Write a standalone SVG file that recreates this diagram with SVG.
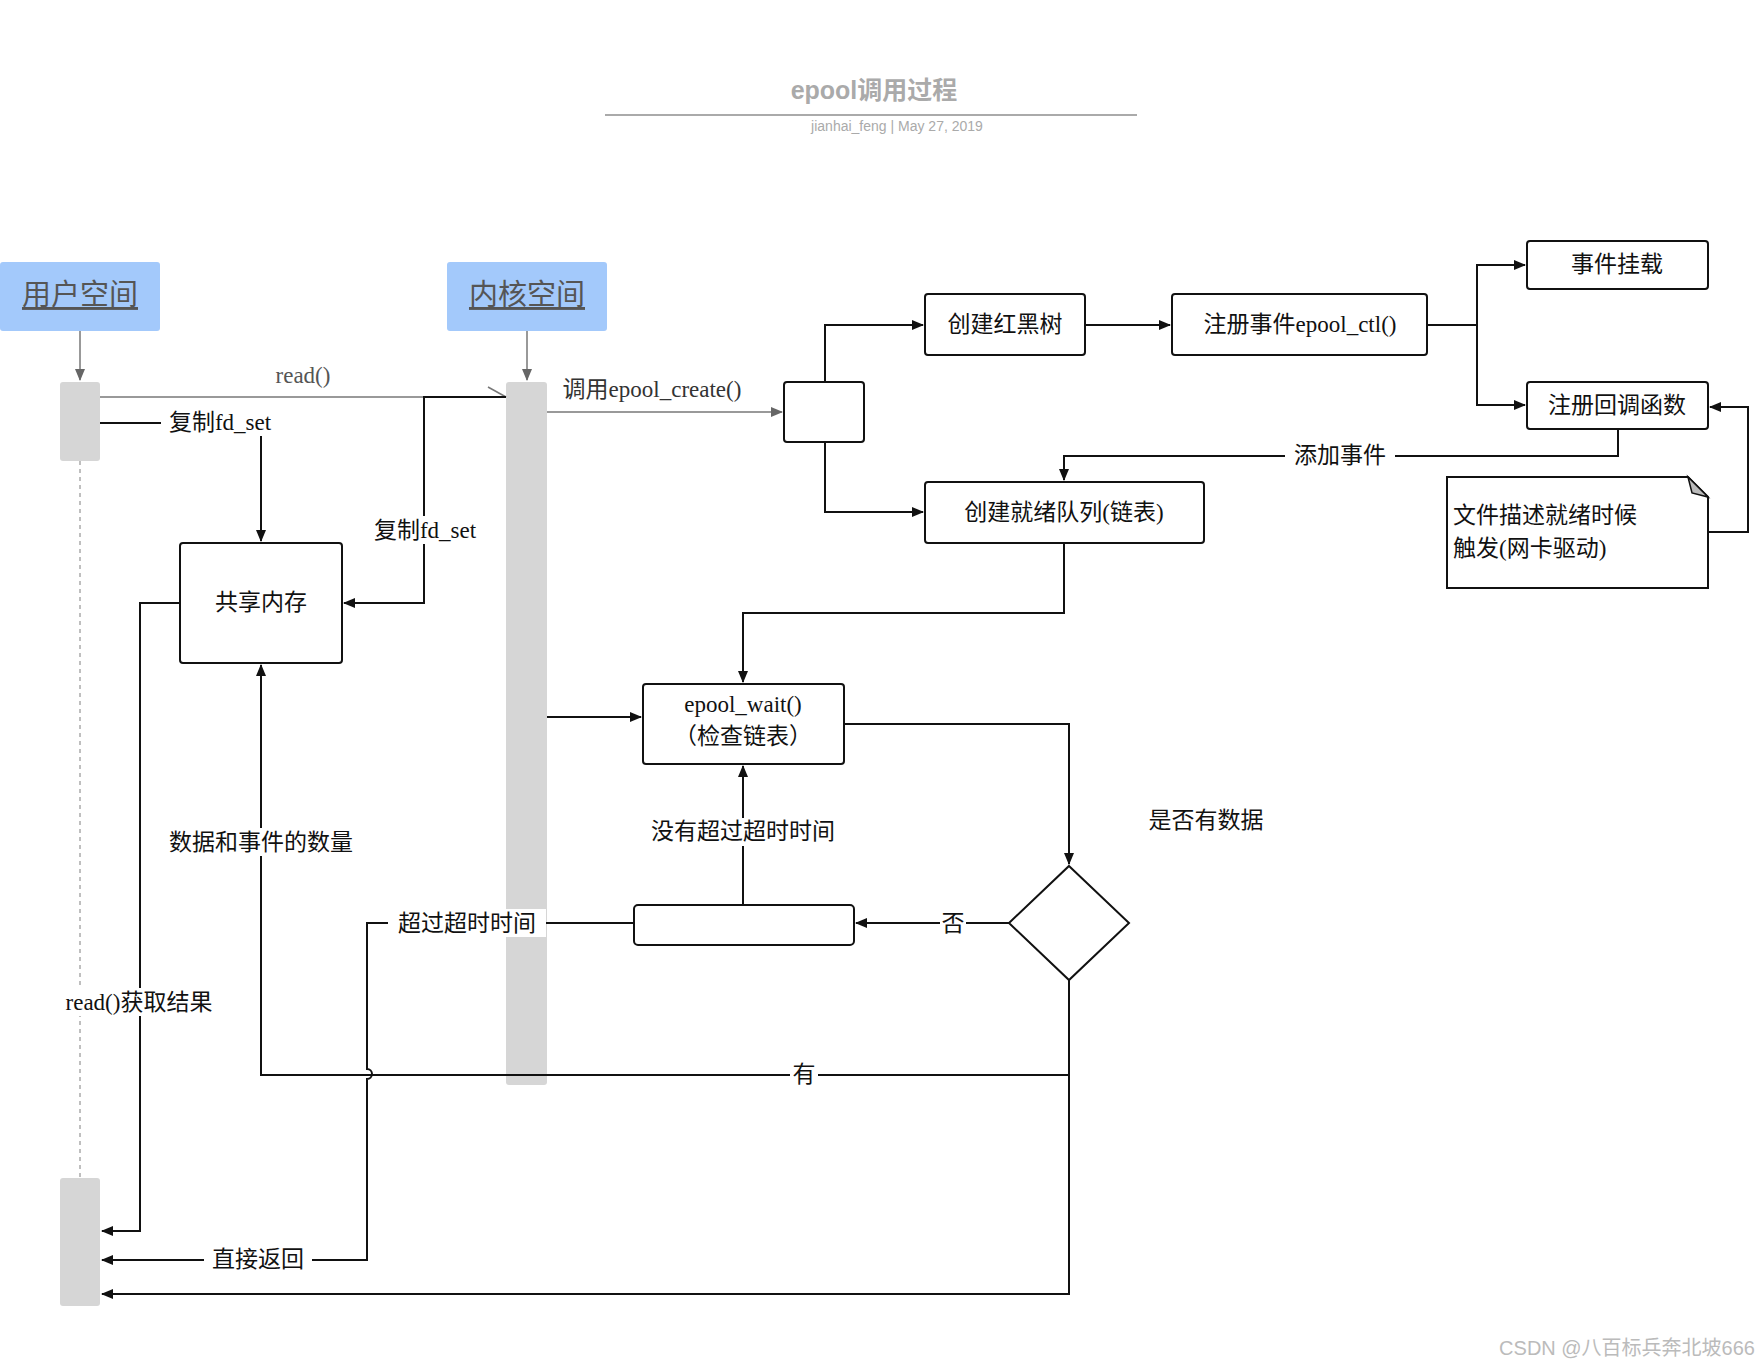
<svg xmlns="http://www.w3.org/2000/svg" width="1760" height="1360" viewBox="0 0 1760 1360">
<style>
text{font-family:"Liberation Serif","Noto Sans CJK SC",serif;font-size:23px;fill:#111}
.c{text-anchor:middle}
.box{fill:#fff;stroke:#111;stroke-width:2}
.ln{fill:none;stroke:#111;stroke-width:2}
.gl{fill:none;stroke:#777;stroke-width:1.5}
.bar{fill:#d6d6d6}
.hd{fill:#a3c9fb}
.lb{fill:#fff}
</style>
<defs>
<marker id="a" markerWidth="12" markerHeight="10" refX="11" refY="5" orient="auto" markerUnits="userSpaceOnUse"><path d="M0,0L12,5L0,10z" fill="#111"/></marker>
<marker id="g" markerWidth="12" markerHeight="10" refX="11" refY="5" orient="auto" markerUnits="userSpaceOnUse"><path d="M0,0L12,5L0,10z" fill="#666"/></marker>
</defs>
<rect width="1760" height="1360" fill="#fff"/>
<g id="title">
<text x="874" y="99" class="c" style="font-family:'Liberation Sans','Noto Sans CJK SC',sans-serif;font-size:25px;font-weight:bold;fill:#aaa">epool调用过程</text>
<line x1="605" y1="115" x2="1137" y2="115" stroke="#aaa" stroke-width="2"/>
<text x="897" y="131" class="c" style="font-family:'Liberation Sans',sans-serif;font-size:14px;fill:#aaa">jianhai_feng   |  May 27, 2019</text>
</g>
<g id="user"><rect x="0" y="262" width="160" height="69" rx="3" class="hd"/><text x="80" y="305" class="c" style="font-size:29px;fill:#555;text-decoration:underline">用户空间</text></g>
<g id="kernel"><rect x="447" y="262" width="160" height="69" rx="3" class="hd"/><text x="527" y="305" class="c" style="font-size:29px;fill:#555;text-decoration:underline">内核空间</text></g>
<g id="bars">
<rect x="60" y="382" width="40" height="79" rx="3" class="bar"/>
<line x1="80" y1="461" x2="80" y2="1178" stroke="#aaa" stroke-dasharray="4,4" stroke-width="1.5"/>
<rect x="60" y="1178" width="40" height="128" rx="3" class="bar"/>
<rect x="506" y="382" width="41" height="703" rx="3" class="bar"/>
</g>
<g id="n-small"><rect x="784" y="382" width="80" height="60" rx="3" class="box"/></g>
<g id="n-rbt"><rect x="925" y="294" width="160" height="61" rx="3" class="box"/><text x="1005" y="332" class="c">创建红黑树</text></g>
<g id="n-ctl"><rect x="1172" y="294" width="255" height="61" rx="3" class="box"/><text x="1300" y="332" class="c">注册事件epool_ctl()</text></g>
<g id="n-mount"><rect x="1527" y="241" width="181" height="48" rx="3" class="box"/><text x="1617" y="272" class="c">事件挂载</text></g>
<g id="n-cb"><rect x="1527" y="382" width="181" height="47" rx="3" class="box"/><text x="1617" y="413" class="c">注册回调函数</text></g>
<g id="n-ready"><rect x="925" y="482" width="279" height="61" rx="3" class="box"/><text x="1064" y="520" class="c">创建就绪队列(链表)</text></g>
<g id="n-note"><path d="M1447,477H1688L1708,497V588H1447Z" class="box"/><path d="M1688,477L1692,493L1708,497Z" fill="#bbb" stroke="#111" stroke-width="1.5"/><text x="1453" y="523">文件描述就绪时候</text><text x="1453" y="556">触发(网卡驱动)</text></g>
<g id="n-share"><rect x="180" y="543" width="162" height="120" rx="3" class="box"/><text x="261" y="610" class="c">共享内存</text></g>
<g id="n-wait"><rect x="643" y="684" width="201" height="80" rx="3" class="box"/><text x="743" y="712" class="c">epool_wait()</text><text x="743" y="744" class="c">（检查链表）</text></g>
<g id="n-diamond"><path d="M1069,866L1129,923L1069,980L1009,923Z" class="box"/></g>
<g id="n-timeout"><rect x="634" y="905" width="220" height="40" rx="4" class="box"/></g>
<g id="connectors">
<path d="M80,331V380" class="gl" marker-end="url(#g)"/>
<path d="M527,331V380" class="gl" marker-end="url(#g)"/>
<path d="M100,397H506" class="gl"/><path d="M488,387L506,397" class="gl"/>
<path d="M547,412H782" class="gl" marker-end="url(#g)"/>
<path d="M100,423H261V541" class="ln" marker-end="url(#a)"/>
<path d="M506,397H424V603H344" class="ln" marker-end="url(#a)"/>
<path d="M825,382V325H923" class="ln" marker-end="url(#a)"/>
<path d="M825,442V512H923" class="ln" marker-end="url(#a)"/>
<path d="M1085,325H1170" class="ln" marker-end="url(#a)"/>
<path d="M1427,325H1477V265H1525" class="ln" marker-end="url(#a)"/>
<path d="M1477,325V405H1525" class="ln" marker-end="url(#a)"/>
<path d="M1618,429V456H1064V480" class="ln" marker-end="url(#a)"/>
<path d="M1708,532H1748V407H1710" class="ln" marker-end="url(#a)"/>
<path d="M1064,543V613H743V682" class="ln" marker-end="url(#a)"/>
<path d="M547,717H641" class="ln" marker-end="url(#a)"/>
<path d="M844,724H1069V864" class="ln" marker-end="url(#a)"/>
<path d="M1009,923H856" class="ln" marker-end="url(#a)"/>
<path d="M743,905V766" class="ln" marker-end="url(#a)"/>
<path d="M634,923H367V1069A5,5 0 0 1 367,1079V1260H102" class="ln" marker-end="url(#a)"/>
<path d="M1069,980V1075H261V665" class="ln" marker-end="url(#a)"/>
<path d="M1069,1075V1294H102" class="ln" marker-end="url(#a)"/>
<path d="M180,603H140V1231H102" class="ln" marker-end="url(#a)"/>
</g>
<g id="labels">
<text x="303" y="383" class="c" style="fill:#555">read()</text>
<text x="652" y="397" class="c" style="fill:#333">调用epool_create()</text>
<rect x="161" y="408" width="118" height="28" class="lb"/><text x="220" y="430" class="c">复制fd_set</text>
<rect x="366" y="516" width="118" height="28" class="lb"/><text x="425" y="538" class="c">复制fd_set</text>
<rect x="1285" y="441" width="110" height="28" class="lb"/><text x="1340" y="463" class="c">添加事件</text>
<text x="1206" y="828" class="c">是否有数据</text>
<rect x="940" y="910" width="26" height="28" class="lb"/><text x="953" y="931" class="c">否</text>
<rect x="637" y="818" width="212" height="28" class="lb"/><text x="743" y="839" class="c">没有超过超时时间</text>
<rect x="388" y="909" width="158" height="28" class="lb"/><text x="467" y="931" class="c">超过超时时间</text>
<rect x="152" y="828" width="218" height="28" class="lb"/><text x="261" y="850" class="c">数据和事件的数量</text>
<rect x="52" y="988" width="176" height="28" class="lb"/><text x="139" y="1010" class="c">read()获取结果</text>
<rect x="790" y="1060" width="28" height="28" class="lb"/><text x="804" y="1082" class="c">有</text>
<rect x="204" y="1245" width="108" height="28" class="lb"/><text x="258" y="1267" class="c">直接返回</text>
<text x="1755" y="1355" style="font-family:'Liberation Sans','Noto Sans CJK SC',sans-serif;font-size:20px;fill:#bbb;text-anchor:end">CSDN @八百标兵奔北坡666</text>
</g>
</svg>
